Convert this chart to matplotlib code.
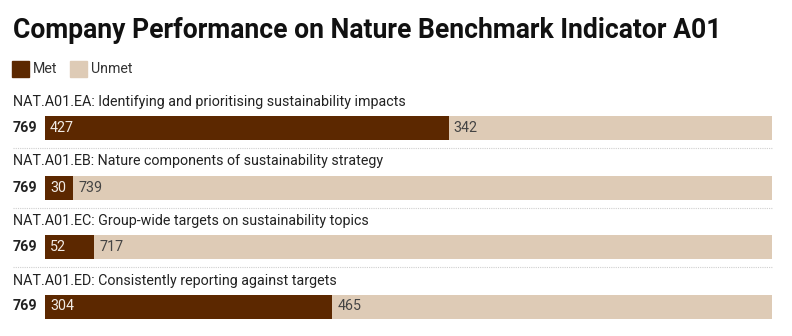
import matplotlib.pyplot as plt
from matplotlib.patches import Rectangle
import matplotlib.transforms as mtransforms

plt.rcParams['font.family'] = ['Roboto', 'DejaVu Sans']

indicators = [
    "NAT.A01.EA: Identifying and prioritising sustainability impacts",
    "NAT.A01.EB: Nature components of sustainability strategy",
    "NAT.A01.EC: Group-wide targets on sustainability topics",
    "NAT.A01.ED: Consistently reporting against targets",
]
met = [427, 30, 52, 304]
unmet = [342, 739, 717, 465]
totals = [m + u for m, u in zip(met, unmet)]

MET_COLOR = "#5c2800"
UNMET_COLOR = "#decbb6"

W, H = 792, 336
fig = plt.figure(figsize=(W / 100, H / 100), dpi=100)

# title and legend
fig.text(13 / W, 1 - 31 / H, "Company Performance on Nature Benchmark Indicator A01",
         fontsize=19.1, fontweight="bold", va="center", ha="left", color="#111111")
for x0, label, color in [(12, "Met", MET_COLOR), (70, "Unmet", UNMET_COLOR)]:
    fig.patches.append(Rectangle((x0 / W, 1 - 77 / H), 17 / W, 16 / H,
                                 transform=fig.transFigure, color=color))
    fig.text((x0 + 21) / W, 1 - 69 / H, label, fontsize=10.2, va="center",
             ha="left", color="#333333")

ax = fig.add_axes([45 / W, 0, 727 / W, 1])
ax.set_xlim(0, max(totals))
row = 59.5
ax.set_ylim((H - 128) / row, -128 / row)
ax.axis("off")

bar_h = 24 / row
ys = list(range(len(indicators)))
ax.barh(ys, met, height=bar_h, color=MET_COLOR, linewidth=0)
ax.barh(ys, unmet, left=met, height=bar_h, color=UNMET_COLOR, linewidth=0)

trans = mtransforms.blended_transform_factory(ax.transAxes, ax.transData)
pad = mtransforms.ScaledTranslation(5 / 100, 0, fig.dpi_scale_trans)
for i, name in enumerate(indicators):
    ax.text(-32 / 727, i - 26 / row, name, transform=trans, fontsize=10.3,
            va="center", ha="left", color="#222222")
    ax.text(-8 / 727, i, str(totals[i]), transform=trans, fontsize=10.3,
            fontweight="bold", va="center", ha="right", color="#222222")
    ax.text(0, i, str(met[i]), transform=ax.transData + pad, fontsize=10.3,
            va="center", ha="left", color="#f2ece6")
    ax.text(met[i], i, str(unmet[i]), transform=ax.transData + pad, fontsize=10.3,
            va="center", ha="left", color="#444444")
    if i < len(indicators) - 1:
        ax.plot([-32 / 727, 1], [i + 20 / row] * 2, transform=trans,
                color="#cfcfcf", linewidth=0.8, linestyle=(0, (1, 1)),
                clip_on=False)

fig.savefig("out.png", dpi=100)
